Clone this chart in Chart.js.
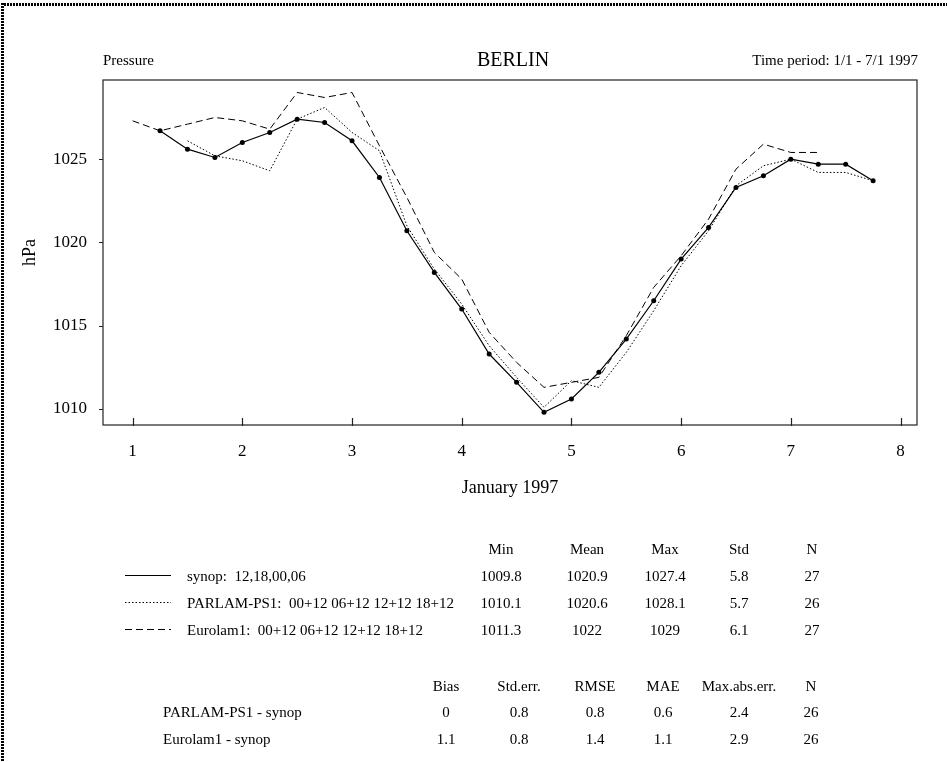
<!DOCTYPE html>
<html>
<head>
<meta charset="utf-8">
<script src="https://cdn.jsdelivr.net/npm/chart.js@4"></script>
<style>
  html, body { margin: 0; padding: 0; background: #fff; }
  #page { position: relative; width: 947px; height: 762px; overflow: hidden; font-family: 'Liberation Serif', 'Times New Roman', serif; color: #000; }
  #frameTop { position: absolute; left: 1px; top: 3px; width: 946px; height: 3px;
    background: repeating-linear-gradient(90deg, #000 0 2px, #fff 2px 3px); }
  #frameLeft { position: absolute; left: 1px; top: 3px; width: 3px; height: 759px;
    background: repeating-linear-gradient(180deg, #000 0 2px, #fff 2px 3px); }
  canvas { position: absolute; left: 0; top: 0; }
  .t { position: absolute; white-space: pre; line-height: 1; }
  .c { transform: translate(-50%, -50%); }
  .l { transform: translate(0, -50%); }
  .r { transform: translate(-100%, -50%); }
</style>
</head>
<body>
<div id="page">
  <div id="frameTop"></div>
  <div id="frameLeft"></div>
  <canvas id="chart" width="947" height="762"></canvas>
  <div id="texts"></div>
</div>
<script>
// days of January 1997, every 6 hours
const days = [1, 1.25, 1.5, 1.75, 2, 2.25, 2.5, 2.75, 3, 3.25, 3.5, 3.75, 4, 4.25,
  4.5, 4.75, 5, 5.25, 5.5, 5.75, 6, 6.25, 6.5, 6.75, 7, 7.25, 7.5, 7.75];

const synop = [null, 1026.7, 1025.6, 1025.1, 1026.0, 1026.6, 1027.4, 1027.2, 1026.1, 1023.9,
  1020.7, 1018.2, 1016.0, 1013.3, 1011.6, 1009.8, 1010.6, 1012.2, 1014.2, 1016.5,
  1019.0, 1020.9, 1023.3, 1024.0, 1025.0, 1024.7, 1024.7, 1023.7];

const parlam = [null, null, 1026.1, 1025.2, 1024.9, 1024.3, 1027.4, 1028.1, 1026.6, 1025.5,
  1021.0, 1018.4, 1016.3, 1013.8, 1011.9, 1010.1, 1011.7, 1011.3, 1013.4, 1015.9,
  1018.6, 1020.7, 1023.4, 1024.6, 1025.0, 1024.2, 1024.2, 1023.7];

const eurolam = [1027.3, 1026.7, 1027.1, 1027.5, 1027.3, 1026.8, 1029.0, 1028.7, 1029.0, 1025.8,
  1022.7, 1019.4, 1017.8, 1014.6, 1012.8, 1011.3, 1011.6, 1011.9, 1014.4, 1017.3,
  1019.2, 1021.4, 1024.4, 1025.9, 1025.4, 1025.4, null, null];

const seriesNames = ['synop:  12,18,00,06', 'PARLAM-PS1:  00+12 06+12 12+12 18+12', 'Eurolam1:  00+12 06+12 12+12 18+12'];

const statHeads = ['Min', 'Mean', 'Max', 'Std', 'N'];
const statRows = [
  ['1009.8', '1020.9', '1027.4', '5.8', '27'],
  ['1010.1', '1020.6', '1028.1', '5.7', '26'],
  ['1011.3', '1022', '1029', '6.1', '27']
];

const errNames = ['PARLAM-PS1 - synop', 'Eurolam1 - synop'];
const errHeads = ['Bias', 'Std.err.', 'RMSE', 'MAE', 'Max.abs.err.', 'N'];
const errRows = [
  ['0', '0.8', '0.8', '0.6', '2.4', '26'],
  ['1.1', '0.8', '1.4', '1.1', '2.9', '26']
];

const FONT = "'Liberation Serif', 'Times New Roman', serif";

function pairs(values) {
  return days.map((d, i) => ({ x: d, y: values[i] }));
}

// text blocks around the chart
const texts = document.getElementById('texts');
function addText(str, x, y, size, cls) {
  const el = document.createElement('div');
  el.className = 't ' + cls;
  el.style.left = x + 'px';
  el.style.top = y + 'px';
  el.style.fontSize = size + 'px';
  el.textContent = str;
  texts.appendChild(el);
}

addText('Pressure', 103, 60, 15, 'l');
addText('BERLIN', 513, 59, 20, 'c');
addText('Time period: 1/1 - 7/1 1997', 918, 60, 15, 'r');

const statCols = [501, 587, 665, 739, 812];
const rowY = [576, 603, 630];
statHeads.forEach((h, i) => addText(h, statCols[i], 549, 15, 'c'));
seriesNames.forEach((name, r) => {
  addText(name, 187, rowY[r], 15, 'l');
  statRows[r].forEach((v, i) => addText(v, statCols[i], rowY[r], 15, 'c'));
});

const errCols = [446, 519, 595, 663, 739, 811];
const errY = [712, 739];
errHeads.forEach((h, i) => addText(h, errCols[i], 686, 15, 'c'));
errNames.forEach((name, r) => {
  addText(name, 163, errY[r], 15, 'l');
  errRows[r].forEach((v, i) => addText(v, errCols[i], errY[r], 15, 'c'));
});

// box, inward x ticks, outward y ticks and the legend line samples
const decorations = {
  id: 'decorations',
  afterDraw(chart) {
    const { ctx, chartArea: a, scales } = chart;
    ctx.save();
    ctx.strokeStyle = '#222';
    ctx.lineWidth = 1.2;
    ctx.strokeRect(a.left, a.top, a.right - a.left, a.bottom - a.top);

    ctx.beginPath();
    scales.x.ticks.forEach((t) => {
      const px = Math.round(scales.x.getPixelForValue(t.value)) + 0.5;
      ctx.moveTo(px, a.bottom + 1);
      ctx.lineTo(px, a.bottom - 7);
    });
    scales.y.ticks.forEach((t) => {
      const py = Math.round(scales.y.getPixelForValue(t.value)) + 0.5;
      ctx.moveTo(a.left, py);
      ctx.lineTo(a.left - 4, py);
    });
    ctx.stroke();

    const ys = [575, 602, 629];
    chart.data.datasets.forEach((ds, i) => {
      ctx.beginPath();
      ctx.strokeStyle = ds.borderColor;
      ctx.lineWidth = ds.borderWidth;
      ctx.setLineDash(ds.borderDash || []);
      ctx.moveTo(125, ys[i] + 0.5);
      ctx.lineTo(171, ys[i] + 0.5);
      ctx.stroke();
    });
    ctx.restore();
  }
};

new Chart(document.getElementById('chart'), {
  type: 'line',
  data: {
    datasets: [
      {
        label: 'synop',
        data: pairs(synop),
        borderColor: '#000',
        backgroundColor: '#000',
        borderWidth: 1.2,
        pointRadius: 2.5,
        pointBackgroundColor: '#000',
        pointBorderWidth: 0,
      },
      {
        label: 'PARLAM-PS1',
        data: pairs(parlam),
        borderColor: '#000',
        borderWidth: 1,
        borderDash: [1.5, 2],
        pointRadius: 0,
      },
      {
        label: 'Eurolam1',
        data: pairs(eurolam),
        borderColor: '#000',
        borderWidth: 1,
        borderDash: [7, 4],
        pointRadius: 0,
      },
    ],
  },
  options: {
    responsive: false,
    animation: false,
    devicePixelRatio: 1,
    layout: {
      padding: { top: 80, right: 30, bottom: 257, left: 0 },
    },
    scales: {
      x: {
        type: 'linear',
        min: 0.73,
        max: 8.15,
        grid: { display: false, drawTicks: false },
        border: { display: false },
        ticks: {
          stepSize: 1,
          includeBounds: false,
          padding: 16,
          color: '#000',
          font: { family: FONT, size: 17 },
        },
        title: {
          display: true,
          text: 'January 1997',
          color: '#000',
          font: { family: FONT, size: 18 },
          padding: { top: 0, bottom: 6 },
        },
        afterFit(scale) {
          scale.height = 80;
        },
      },
      y: {
        min: 1009.04,
        max: 1029.75,
        grid: { display: false, drawTicks: false },
        border: { display: false },
        ticks: {
          stepSize: 5,
          includeBounds: false,
          padding: 16,
          color: '#000',
          font: { family: FONT, size: 17 },
          callback: (value) => String(value),
        },
        title: {
          display: true,
          text: 'hPa',
          color: '#000',
          font: { family: FONT, size: 18 },
          padding: { top: 19, bottom: 0 },
        },
        afterFit(scale) {
          scale.width = 103;
        },
      },
    },
    plugins: {
      legend: { display: false },
      tooltip: { enabled: false },
    },
  },
  plugins: [decorations],
});
</script>
</body>
</html>
